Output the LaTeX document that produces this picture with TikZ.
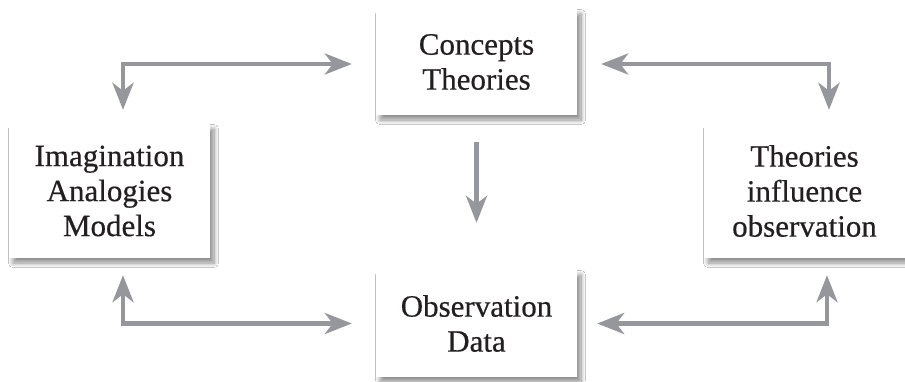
\documentclass[tikz,border=0pt]{standalone}
\usepackage{fontspec}
\setmainfont{Liberation Serif}
\newfontfamily\boxfont[FakeBold=0.5]{Liberation Serif}
\usetikzlibrary{arrows.meta,shadows.blur}
\definecolor{arrgray}{RGB}{150,151,156}
\definecolor{txt}{RGB}{35,31,32}
\tikzset{
  box/.style={fill=white, minimum width=201pt, align=center, text=txt,
    font=\boxfont\fontsize{31}{35}\selectfont, inner sep=0pt,
    blur shadow={shadow xshift=4pt, shadow yshift=-5pt, shadow blur steps=12, shadow blur radius=4.5pt, shadow opacity=45}},
  arr/.style={draw=arrgray, line width=4.5pt, {Stealth[length=27pt,width=21pt,inset=8pt]}-{Stealth[length=27pt,width=21pt,inset=8pt]}},
  onearr/.style={draw=arrgray, line width=4.5pt, -{Stealth[length=27pt,width=21pt,inset=8pt]}}
}
\begin{document}
\begin{tikzpicture}[x=1pt,y=-1pt]
\useasboundingbox[fill=white] (0,0) rectangle (905,381);
\node[box, minimum height=106pt] (concepts) at (476.5,62) {Concepts\\Theories};
\node[box, minimum height=134pt] (imag) at (109.5,191) {Imagination\\Analogies\\Models};
\node[box, minimum height=134pt] (theo) at (804.5,191) {Theories\\influence\\observation};
\node[box, minimum height=107pt] (obs) at (476.5,323.5) {Observation\\Data};
\draw[arr, shorten <=14pt, shorten >=24pt] ([xshift=13.5pt]imag.north) |- ([yshift=-2pt]concepts.west);
\draw[arr, shorten <=24pt, shorten >=14pt] ([yshift=-2pt]concepts.east) -| ([xshift=24.5pt]theo.north);
\draw[onearr, shorten <=27pt, shorten >=47pt] (concepts.south) -- (obs.north);
\draw[arr, shorten <=17pt, shorten >=24pt] ([xshift=13.5pt]imag.south) |- (obs.west);
\draw[arr, shorten <=20pt, shorten >=17pt] (obs.east) -| ([xshift=22.5pt]theo.south);
\end{tikzpicture}
\end{document}
